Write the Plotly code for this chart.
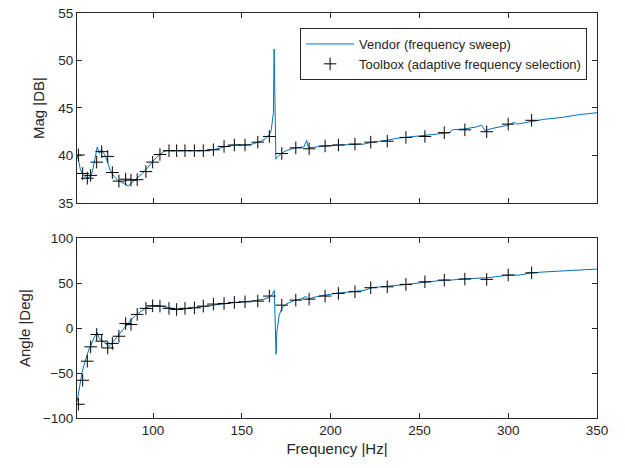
import plotly.graph_objects as go

# Vendor (frequency sweep) line
vendor_freq = [57.2, 58, 59, 60, 61, 62, 63, 64, 65, 66, 67, 68, 68.6, 69.3, 69.8, 70.5, 71.2, 72, 73, 74,
               75, 76, 77, 78, 80, 82, 84, 86, 88, 90, 92, 94, 96, 98, 100, 102, 104, 106, 108, 112,
               120, 128, 134, 140, 146, 152, 156, 159, 162, 164, 165.5, 166.5, 167.3, 167.8, 168.2, 168.5,
               168.8, 169.2, 170, 172, 175, 180, 185, 186.5, 187.5, 192, 197, 205, 214, 219, 223, 232,
               237, 242, 253, 264, 267, 268.5, 275.6, 282, 285, 287, 290, 300, 303.5, 305, 313, 320,
               330, 340, 350]
vendor_mag = [40.0, 39.6, 38.6, 38.1, 37.9, 37.7, 37.6, 37.7, 37.9, 38.4, 39.2, 40.3, 40.9, 40.4, 40.2, 40.5,
              40.6, 40.3, 40.0, 39.5, 38.9, 38.4, 38.1, 37.8, 37.4, 37.2, 37.0, 36.8, 37.1, 37.4, 37.7,
              38.1, 38.5, 39.0, 39.4, 39.8, 40.1, 40.4, 40.5, 40.5, 40.5, 40.5, 40.6, 40.9, 41.1, 41.1,
              41.2, 41.4, 41.6, 41.9, 42.2, 42.6, 43.5, 44.5, 51.2, 47.0, 42.0, 39.6, 39.8, 40.2, 40.5,
              40.8, 40.9, 41.6, 40.8, 40.9, 41.0, 41.1, 41.2, 41.2, 41.4, 41.6, 41.8, 41.9, 42.1, 42.4,
              42.4, 42.7, 42.8, 43.0, 43.2, 42.6, 42.8, 43.2, 43.5, 43.3, 43.6, 43.8, 44.0, 44.3, 44.5]

vendor_freq_ang = [57.2, 58, 59, 60, 61, 62, 63, 64, 65, 66, 67, 68, 68.6, 69.5, 70.5, 72, 73.5, 75, 76, 77,
                   78, 80, 82, 84, 86, 88, 90, 92, 94, 96, 98, 100, 104, 108, 112, 116, 120, 125, 130, 135,
                   140, 146, 152, 158, 162, 165, 167, 168.3, 168.6, 169.0, 169.3, 169.7, 170.3, 171, 172.5,
                   175, 180, 184, 186, 187.5, 192, 197, 204, 214, 219, 223, 232, 242, 253, 264, 268, 276,
                   288, 300, 306, 313, 320, 330, 340, 350]
vendor_ang = [-82, -72, -60, -50, -42, -35, -29, -23, -19, -14, -10, -7, -5, -10, -13, -15, -18, -20, -19, -17,
              -14, -9, -4, 1, 6, 10, 14, 17, 20, 22.5, 24, 25, 24.8, 23, 21.5, 21, 22, 23.5, 25, 26.5,
              27.5, 28.5, 29.3, 30.5, 32, 34, 37, 42, 10, -20, -29, -5, 7, 14, 22,
              27, 31, 33, 35.5, 32.5, 35, 36.5, 39, 41, 42, 45, 46.5, 48.5, 51, 53.5, 53.5, 55,
              56, 59, 59, 61.5, 62.5, 63.5, 64.5, 65.8]

# Toolbox (adaptive frequency selection) points
tb_freq = [58, 60.4, 63, 64.9, 68.3, 71.1, 74.5, 77.1, 80.8, 84.6, 87.6, 91.1, 96, 99.8, 103.9, 109, 113.3,
           118, 123.3, 128.3, 134, 140, 145.8, 151.8, 159, 165.5, 172.5, 180.4, 187.9, 196.9, 204.4,
           213.7, 222.6, 231.9, 242.4, 253.1, 264, 275.6, 287.9, 300, 313.2]
tb_mag = [40.05, 38.1, 37.6, 37.9, 39.3, 40.4, 39.9, 38.2, 37.3, 37.5, 37.4, 37.45, 38.3, 39.3, 40.1, 40.5,
          40.5, 40.5, 40.5, 40.5, 40.6, 40.95, 41.1, 41.1, 41.4, 42.0, 40.2, 40.8, 40.7, 41.0, 41.1,
          41.2, 41.4, 41.5, 41.9, 42.0, 42.4, 42.7, 42.5, 43.3, 43.7]
tb_ang = [-84.7, -58, -36.8, -20.8, -7, -14.5, -22, -17, -9, 5.2, 4.1, 15.3, 22, 24.9, 24.5, 22, 20.8,
          22, 22.6, 24.5, 26.8, 27.5, 28.6, 29.3, 30.1, 35.7, 25.6, 31.2, 32.3, 35.7, 38.7,
          40.5, 45, 46, 48.7, 51.6, 53.5, 54.6, 54.3, 59.1, 61.6]

line_color = "#0072BD"
axis_color = "#262626"
font_family = "Liberation Sans, Arial, sans-serif"
marker_style = dict(symbol="cross-thin", size=9, line=dict(color="black", width=1))

fig = go.Figure()
fig.add_trace(go.Scatter(x=vendor_freq, y=vendor_mag, mode="lines", name="Vendor (frequency sweep)",
                         line=dict(color=line_color, width=1), xaxis="x", yaxis="y"))
fig.add_trace(go.Scatter(x=tb_freq, y=tb_mag, mode="markers", name="Toolbox (adaptive frequency selection)",
                         marker=marker_style, xaxis="x", yaxis="y"))
fig.add_trace(go.Scatter(x=vendor_freq_ang, y=vendor_ang, mode="lines", showlegend=False,
                         line=dict(color=line_color, width=1), xaxis="x2", yaxis="y2"))
fig.add_trace(go.Scatter(x=tb_freq, y=tb_ang, mode="markers", showlegend=False,
                         marker=marker_style, xaxis="x2", yaxis="y2"))

common = dict(showline=True, linecolor=axis_color, linewidth=1, mirror="ticks", ticks="inside",
              ticklen=5, tickcolor=axis_color, showgrid=False, zeroline=False, automargin=False,
              tickfont=dict(family=font_family, size=13.5, color=axis_color))
title_font = dict(size=15, family=font_family, color=axis_color)

fig.update_layout(
    width=625, height=468,
    margin=dict(l=77, r=28, t=13, b=50),
    paper_bgcolor="white", plot_bgcolor="white",
    font=dict(family=font_family, color=axis_color),
    xaxis=dict(domain=[0, 1], range=[57.2, 350], tickvals=[100, 150, 200, 250, 300, 350],
               showticklabels=False, anchor="y", **common),
    yaxis=dict(domain=[0.531, 1], range=[35, 55], tickvals=[35, 40, 45, 50, 55], anchor="x",
               title=dict(text="Mag |DB|", font=title_font, standoff=10), **common),
    xaxis2=dict(domain=[0, 1], range=[57.2, 350], tickvals=[100, 150, 200, 250, 300, 350], anchor="y2",
                title=dict(text="Frequency |Hz|", font=title_font, standoff=6), **common),
    yaxis2=dict(domain=[0, 0.4437], range=[-100, 100], tickvals=[-100, -50, 0, 50, 100], anchor="x2",
                title=dict(text="Angle |Deg|", font=title_font, standoff=8), **common),
    legend=dict(x=0.429, y=0.963, xanchor="left", yanchor="top", bgcolor="white",
                bordercolor=axis_color, borderwidth=1, itemwidth=48,
                font=dict(family=font_family, size=13, color=axis_color), tracegroupgap=0),
)

fig.write_html("out.html", config={"displayModeBar": False},
               post_script="document.body.style.margin='0px';")
